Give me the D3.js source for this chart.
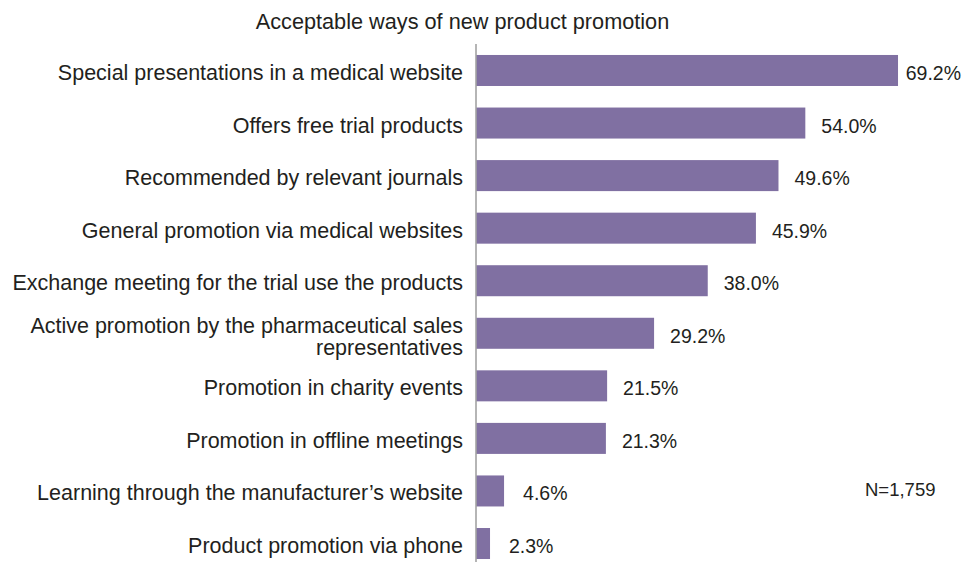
<!DOCTYPE html>
<html>
<head>
<meta charset="utf-8">
<script src="https://cdn.jsdelivr.net/npm/d3@7"></script>
<style>
  html, body { margin: 0; padding: 0; background: #fff; }
  svg { display: block; }
  text { font-family: "Liberation Sans", Arial, Helvetica, sans-serif; fill: #231f20; }
</style>
</head>
<body>
<svg id="chart" width="965" height="562"></svg>
<script>
// Survey answers: acceptable ways of promoting a new product (share of respondents, %)
const categories = [
  "Special presentations in a medical website",
  "Offers free trial products",
  "Recommended by relevant journals",
  "General promotion via medical websites",
  "Exchange meeting for the trial use the products",
  "Active promotion by the pharmaceutical sales\nrepresentatives",
  "Promotion in charity events",
  "Promotion in offline meetings",
  "Learning through the manufacturer\u2019s website",
  "Product promotion via phone"
];
const values = [69.2, 54.0, 49.6, 45.9, 38.0, 29.2, 21.5, 21.3, 4.6, 2.3];
const title = "Acceptable ways of new product promotion";
const sampleNote = "N=1,759";

const W = 965, H = 562;
const svg = d3.select("#chart");

const x = d3.scaleLinear().domain([0, 70]).range([476, 902.9]);
const y = d3.scaleBand()
  .domain(categories)
  .range([44.2, 569.8])
  .paddingInner(0.41)
  .paddingOuter(0.205);

// Title
svg.append("text")
  .attr("x", 462.5)
  .attr("y", 21)
  .attr("text-anchor", "middle")
  .attr("dominant-baseline", "central")
  .style("font-size", "21.7px")
  .text(title);

// Bars
svg.append("g").selectAll("rect")
  .data(values)
  .join("rect")
  .attr("x", x(0))
  .attr("y", (d, i) => y(categories[i]))
  .attr("width", d => x(d) - x(0))
  .attr("height", y.bandwidth())
  .attr("fill", "#8070a2");

// Vertical axis line
svg.append("line")
  .attr("x1", x(0)).attr("x2", x(0))
  .attr("y1", 44).attr("y2", H)
  .attr("stroke", "#a3a3a3")
  .attr("stroke-width", 1.6);

// Category labels, right-aligned against the axis
const labelG = svg.append("g");
categories.forEach(c => {
  const lines = c.split("\n");
  const cy = y(c) + y.bandwidth() / 2 + (lines.length > 1 ? 4 : 2.5);
  const lh = 22;
  const t = labelG.append("text")
    .attr("text-anchor", "end")
    .style("font-size", "21.5px");
  lines.forEach((ln, k) => {
    t.append("tspan")
      .attr("x", x(0) - 13)
      .attr("y", cy + (k - (lines.length - 1) / 2) * lh)
      .attr("dominant-baseline", "central")
      .text(ln);
  });
});

// Value labels to the right of each bar, kept inside the right edge
const valG = svg.append("g");
values.forEach((v, i) => {
  const t = valG.append("text")
    .attr("y", y(categories[i]) + y.bandwidth() / 2 + 2.5)
    .attr("dominant-baseline", "central")
    .style("font-size", "19.5px")
    .text(v.toFixed(1) + "%");
  const w = t.node().getComputedTextLength();
  const gap = v < 10 ? 19 : 16;
  t.attr("x", Math.min(x(v) + gap, W - 4 - w));
});

// Sample size note
svg.append("text")
  .attr("x", 865)
  .attr("y", y(categories[8]) + y.bandwidth() / 2 - 1)
  .attr("dominant-baseline", "central")
  .style("font-size", "18.5px")
  .text(sampleNote);
</script>
</body>
</html>
